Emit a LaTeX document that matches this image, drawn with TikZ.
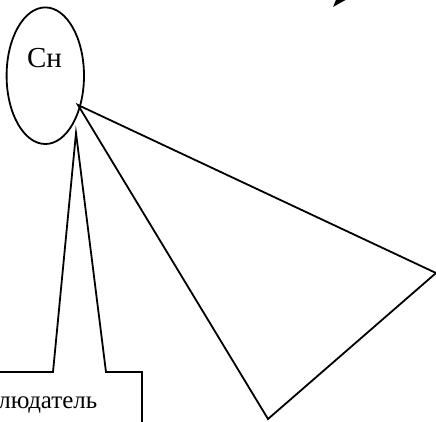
\documentclass[tikz,border=0pt]{standalone}
\usepackage{fontspec}
\setmainfont{Liberation Serif}
\usetikzlibrary{arrows.meta,shapes.geometric}
\begin{document}
\begin{tikzpicture}[x=1pt,y=-1pt,
  ln/.style={line width=1.8pt,line join=miter},
  lbl/.style={inner sep=0pt,font=\fontsize{25}{28}\selectfont}]
\useasboundingbox (0,0) rectangle (436,421);
\clip (0,0) rectangle (436,421);
% ellipse
\node[draw,ln,ellipse,minimum width=77.4pt,minimum height=136.6pt,inner sep=0pt] (sn) at (45.3,75.7) {};
\node[lbl,anchor=base,font=\fontsize{29}{32}\selectfont] (snt) at (44.5,67) {Сн};
% apex and triangle
\coordinate (apex) at (78,105);
\coordinate (r) at (436,273);
\coordinate (b) at (268,419);
\draw[ln] (apex) -- (r) -- (b) -- cycle;
% spike and observer box
\coordinate (tip) at (76,133);
\coordinate (sl) at (53,372);
\coordinate (sr) at (106,372);
\coordinate (bl) at (-5,372);
\coordinate (br) at (142,372);
\coordinate (bb) at (142,430);
\draw[ln] (bl) -- (sl) -- (tip) -- (sr) -- (br) -- (bb);
\node[lbl,anchor=base east] (obs) at (97.5,408) {Наблюдатель};
% arrow
\coordinate (as) at (373,-38);
\coordinate (ae) at (333,7);
\draw[ln,-{Triangle[length=18pt,width=12pt]}] (as) -- (ae);
\end{tikzpicture}
\end{document}
